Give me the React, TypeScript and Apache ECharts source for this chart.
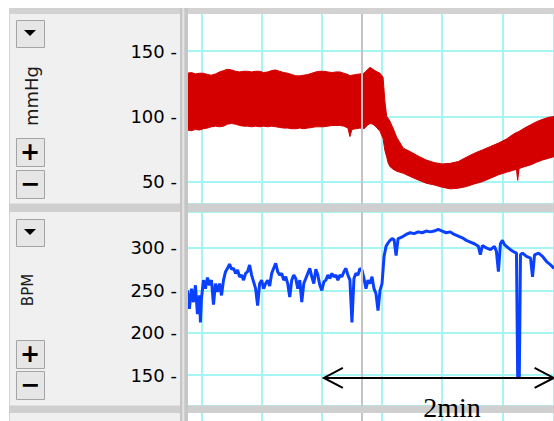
import React, { useEffect, useRef } from "react";
import * as echarts from "echarts";

// ---- data (time in seconds) ----
const bpTime = [
  -7.2, -5, -3, -1, 1, 3, 5, 7, 9, 11, 13, 15, 17, 19, 21, 23, 25, 27, 29, 31, 33, 35, 37, 39, 41, 43, 45, 47, 49, 51,
  53, 55, 57, 59, 61, 63, 65, 67, 69, 71, 73, 74, 75, 77, 79, 81, 83, 84, 85.5, 87, 89, 90.5, 91.4, 92.3, 93.1, 94,
  95.5, 97.3, 100.6, 104, 108, 112, 116, 120, 124, 128, 132, 136, 140, 144, 148, 152, 155, 157, 157.6, 158.3, 161,
  164, 167, 170, 173, 175.7,
];
const bpSystolic = [
  133, 133.5, 132.5, 133, 133, 132, 131.5, 132.5, 134, 135, 136, 135.5, 134.5, 134, 134.5, 134.5, 134, 134.5, 134.5,
  133.5, 134, 135, 135.5, 134.5, 133.5, 133, 132, 131, 131, 131.5, 132, 133, 134, 134.5, 134.5, 134, 133.5, 134, 134,
  133, 132, 131, 131.5, 132, 132.5, 133, 136, 137.5, 136, 134.5, 133, 130, 112, 100, 98.5, 96, 91, 84, 75.6, 73, 69.6,
  66.6, 64.6, 63.6, 64, 65.4, 68.7, 71.7, 74.3, 76.9, 79.5, 82.6, 85.9, 87.7, 88, 88.5, 91, 93.5, 95.9, 97.7, 99.3,
  99.8,
];
const bpDiastolic = [
  89.5, 89, 90, 89.5, 90.5, 91, 92, 92.5, 92, 92.5, 94, 94.5, 94, 93, 92.5, 92.5, 92, 92.5, 92, 92.5, 92, 92.5, 92,
  91.5, 91, 91, 90.5, 90.5, 91, 90.5, 91, 91.5, 92, 92, 92, 92.5, 93, 93, 93, 92.5, 91, 84.5, 90, 90.5, 91, 90.5, 93.5,
  94.5, 94, 92, 88.5, 83, 74, 69, 64, 61.5, 59.5, 58, 56.4, 54, 51.3, 48.8, 47.5, 45.7, 44.5, 45, 46.2, 48.3, 50,
  52.6, 55.2, 57.2, 58.5, 59.5, 51, 60, 61.5, 62.8, 64.8, 66.6, 67.9, 69.1,
];

const hrTime = [
  -7, -6, -5, -4, -3, -2, -1, -0.5, 0, 1, 2, 3, 4, 5, 6, 7, 8, 9, 10, 11, 12, 13, 14, 15, 16, 17, 18, 19, 20, 21, 22,
  23, 24, 25, 26, 27, 28, 29, 30, 31, 32, 33, 34, 35, 36, 37, 38, 39, 40, 41, 42, 43, 44, 45, 46, 47, 48, 49, 50, 51,
  52, 53, 54, 55, 56, 57, 58, 59, 60, 61, 62, 63, 64, 65, 66, 67, 68, 69, 70, 71, 72, 73, 74, 75, 76, 77, 78, 79, 80,
  81, 82, 83, 84, 85, 86, 87, 88, 89, 90, 91, 92, 93, 94, 95, 96, 97, 98, 99, 100, 102, 104, 106, 108, 110, 112, 114,
  116, 118, 120, 122, 124, 126, 128, 130, 132, 134, 136, 138, 139, 140, 142, 144, 146, 147, 148, 149, 150, 151, 152,
  154, 156, 157, 157.6, 158.4, 159, 160, 162, 164, 165, 166, 168, 170, 172, 174, 175.7,
];
const hrValue = [
  250, 228, 252, 236, 256, 222, 244, 212, 240, 262, 252, 265, 256, 262, 233, 258, 248, 258, 244, 262, 272, 276, 281,
  275, 276, 270, 274, 266, 268, 262, 270, 272, 280, 268, 260, 252, 232, 258, 262, 252, 258, 262, 255, 270, 276, 282,
  272, 268, 270, 262, 266, 258, 242, 262, 268, 264, 252, 262, 236, 258, 264, 270, 276, 266, 258, 275, 268, 256, 250,
  260, 262, 268, 264, 270, 266, 268, 262, 268, 266, 272, 276, 268, 262, 212, 264, 270, 268, 276, 274, 264, 252, 262,
  258, 266, 252, 246, 226, 250, 258, 290, 302, 306, 309, 311, 310, 291, 311, 312, 313, 316, 318, 317, 319, 318, 320,
  319, 320, 322, 320, 318, 319, 316, 314, 312, 309, 307, 305, 302, 292, 303, 300, 298, 302, 296, 272, 305, 309, 304,
  302, 298, 295, 294, 148, 148, 292, 294, 290, 288, 266, 292, 294, 290, 284, 280, 276,
];

const bpTickValues = [50, 100, 150];
const hrTickValues = [150, 200, 250, 300];
const cursorTime = 80;
const scaleBarStart = 61;
const scaleBarEnd = 175.5;
const scaleBarLevel = 146.5;
const scaleBarLabel = "2min";
const bpUnit = "mmHg";
const hrUnit = "BPM";

const T_MIN = -7.2;
const T_MAX = 175.7;

const RED = "#d40000";
const BLUE = "#0a40ff";
const CYAN = "#a6f5f5";
const FONT = "DejaVu Sans";

function button(x: number, y: number, w: number, h: number) {
  return {
    type: "rect",
    z: 60,
    shape: { x: x + 0.5, y: y + 0.5, width: w, height: h },
    style: { fill: "#e6e6e6", stroke: "#a4a4a4", lineWidth: 1 },
    silent: true,
  };
}

export default function App() {
  const ref = useRef<HTMLDivElement>(null);
  useEffect(() => {
    if (!ref.current) return;
    const chart = echarts.init(ref.current, null, { renderer: "svg" });

    const xAxisBase = (gridIndex: number) => ({
      type: "value",
      gridIndex,
      min: T_MIN,
      max: T_MAX,
      splitNumber: 6,
      axisLine: { show: false },
      axisTick: { show: false },
      axisLabel: { show: false },
      splitLine: { show: true, lineStyle: { color: CYAN, width: 2 } },
    });
    const labelFmt = (ticks: number[]) => (v: number) => (ticks.indexOf(v) >= 0 ? `${v} -` : "");
    const yLabel = (ticks: number[]) => ({
      formatter: labelFmt(ticks),
      margin: 10,
      fontFamily: FONT,
      fontSize: 18,
      color: "#000",
    });
    const cursor = {
      symbol: ["none", "none"],
      silent: true,
      label: { show: false },
      emphasis: { disabled: true },
      lineStyle: { color: "#c4c4c4", width: 2, type: "solid" },
      data: [{ xAxis: cursorTime }],
    };
    const cursorCarrier = (axisIndex: number, y: number) => ({
      type: "line",
      xAxisIndex: axisIndex,
      yAxisIndex: axisIndex,
      z: 5,
      symbol: "none",
      silent: true,
      lineStyle: { opacity: 0 },
      data: [[cursorTime, y]],
      markLine: cursor,
    });

    chart.setOption({
      animation: false,
      backgroundColor: "#ffffff",
      grid: [
        { left: 187, top: 13, right: 0, height: 191, show: true, backgroundColor: "#fff", borderWidth: 0 },
        { left: 187, top: 212, right: 0, height: 194, show: true, backgroundColor: "#fff", borderWidth: 0 },
        { left: 187, top: 413, right: 0, height: 8, show: true, backgroundColor: "#fff", borderWidth: 0 },
      ],
      xAxis: [xAxisBase(0), xAxisBase(1), xAxisBase(2)],
      yAxis: [
        {
          type: "value",
          gridIndex: 0,
          min: 32.9,
          max: 179.1,
          splitNumber: 3,
          axisLine: { show: false },
          axisTick: { show: false },
          axisLabel: yLabel(bpTickValues),
          splitLine: { show: true, lineStyle: { color: CYAN, width: 2 } },
        },
        {
          type: "value",
          gridIndex: 1,
          min: 113.4,
          max: 342.5,
          splitNumber: 4,
          axisLine: { show: false },
          axisTick: { show: false },
          axisLabel: yLabel(hrTickValues),
          splitLine: { show: true, lineStyle: { color: CYAN, width: 2 } },
        },
        { type: "value", gridIndex: 2, min: 0, max: 1, show: false, splitLine: { show: false } },
      ],
      series: [
        {
          name: "bp",
          type: "custom",
          xAxisIndex: 0,
          yAxisIndex: 0,
          silent: true,
          clip: true,
          z: 2,
          encode: { x: 0, y: [1, 2] },
          data: bpTime.map((t, i) => [t, bpSystolic[i], bpDiastolic[i]]),
          renderItem: (params: any, api: any) => {
            if (params.dataIndex !== 0) return null;
            const upper = bpTime.map((t, i) => api.coord([t, bpSystolic[i]]));
            const lower = bpTime.map((t, i) => api.coord([t, bpDiastolic[i]])).reverse();
            return {
              type: "polygon",
              shape: { points: upper.concat(lower) },
              style: { fill: RED, stroke: RED, lineWidth: 1 },
            };
          },
        },
        cursorCarrier(0, 100),
        {
          name: "hr",
          type: "line",
          xAxisIndex: 1,
          yAxisIndex: 1,
          symbol: "none",
          silent: true,
          lineStyle: { color: BLUE, width: 3 },
          data: hrTime.map((t, i) => [t, hrValue[i]]),
          markLine: cursor,
        },
        cursorCarrier(2, 0.5),
      ],
    });

    const L = chart.convertToPixel({ xAxisIndex: 1, yAxisIndex: 1 }, [scaleBarStart, scaleBarLevel]) as number[];
    const R = chart.convertToPixel({ xAxisIndex: 1, yAxisIndex: 1 }, [scaleBarEnd, scaleBarLevel]) as number[];
    const head = 19;
    const spread = 10;

    const elements: any[] = [
      // panel background
      { type: "rect", z: -100, silent: true, shape: { x: 9, y: 8, width: 545, height: 413 }, style: { fill: "#f0f0f0" } },
      { type: "rect", z: 50, silent: true, shape: { x: 9, y: 8, width: 1, height: 413 }, style: { fill: "#d4d4d4" } },
      // frame bands
      { type: "rect", z: 50, silent: true, shape: { x: 9, y: 8, width: 545, height: 6 }, style: { fill: "#d2d2d2" } },
      { type: "rect", z: 50, silent: true, shape: { x: 9, y: 203.5, width: 545, height: 8.5 }, style: { fill: "#cfcfcf" } },
      { type: "rect", z: 50, silent: true, shape: { x: 9, y: 405.5, width: 545, height: 7.5 }, style: { fill: "#cfcfcf" } },
      { type: "rect", z: 51, silent: true, shape: { x: 180, y: 8, width: 8, height: 413 }, style: { fill: "#c6c6c6" } },
      { type: "rect", z: 52, silent: true, shape: { x: 182.3, y: 8, width: 2, height: 413 }, style: { fill: "#e4e4e4" } },
      // top panel controls
      button(16, 20, 28, 27),
      { type: "polygon", z: 61, silent: true, shape: { points: [[24, 30], [36, 30], [30, 36]] }, style: { fill: "#000" } },
      button(16, 138, 28, 28),
      button(16, 170, 28, 28),
      {
        type: "text", z: 61, silent: true, x: 30, y: 152,
        style: { text: "+", fontFamily: FONT, fontWeight: "bold", fontSize: 24, fill: "#000", align: "center", verticalAlign: "middle" },
      },
      {
        type: "text", z: 61, silent: true, x: 30, y: 184,
        style: { text: "\u2212", fontFamily: FONT, fontWeight: "bold", fontSize: 24, fill: "#000", align: "center", verticalAlign: "middle" },
      },
      {
        type: "text", z: 61, silent: true, x: 31, y: 96, rotation: Math.PI / 2,
        style: { text: bpUnit, fontFamily: FONT, fontSize: 18, fill: "#1a1a1a", align: "center", verticalAlign: "middle" },
      },
      // bottom panel controls
      button(16, 219, 28, 27),
      { type: "polygon", z: 61, silent: true, shape: { points: [[24, 229], [36, 229], [30, 235]] }, style: { fill: "#000" } },
      button(16, 340, 28, 28),
      button(16, 371, 28, 28),
      {
        type: "text", z: 61, silent: true, x: 30, y: 354,
        style: { text: "+", fontFamily: FONT, fontWeight: "bold", fontSize: 24, fill: "#000", align: "center", verticalAlign: "middle" },
      },
      {
        type: "text", z: 61, silent: true, x: 30, y: 385,
        style: { text: "\u2212", fontFamily: FONT, fontWeight: "bold", fontSize: 24, fill: "#000", align: "center", verticalAlign: "middle" },
      },
      {
        type: "text", z: 61, silent: true, x: 28, y: 290, rotation: Math.PI / 2,
        style: { text: hrUnit, fontFamily: FONT, fontSize: 15, fill: "#1a1a1a", align: "center", verticalAlign: "middle" },
      },
      // 2 min scale bar
      {
        type: "line", z: 70, silent: true,
        shape: { x1: L[0], y1: L[1], x2: R[0], y2: R[1] },
        style: { stroke: "#000", lineWidth: 2 },
      },
      {
        type: "polyline", z: 70, silent: true,
        shape: { points: [[L[0] + head, L[1] - spread], [L[0], L[1]], [L[0] + head, L[1] + spread]] },
        style: { stroke: "#000", lineWidth: 2, fill: null },
      },
      {
        type: "polyline", z: 70, silent: true,
        shape: { points: [[R[0] - head, R[1] - spread], [R[0], R[1]], [R[0] - head, R[1] + spread]] },
        style: { stroke: "#000", lineWidth: 2, fill: null },
      },
      {
        type: "text", z: 70, silent: true, x: 452, y: 407,
        style: { text: scaleBarLabel, fontFamily: "Liberation Serif", fontSize: 28, fill: "#000", align: "center", verticalAlign: "middle" },
      },
    ];
    chart.setOption({ graphic: { elements } });

    return () => chart.dispose();
  }, []);
  return (
    <div
      ref={ref}
      style={{ position: "absolute", left: 0, top: 0, width: 554, height: 421, background: "#fff" }}
    />
  );
}
